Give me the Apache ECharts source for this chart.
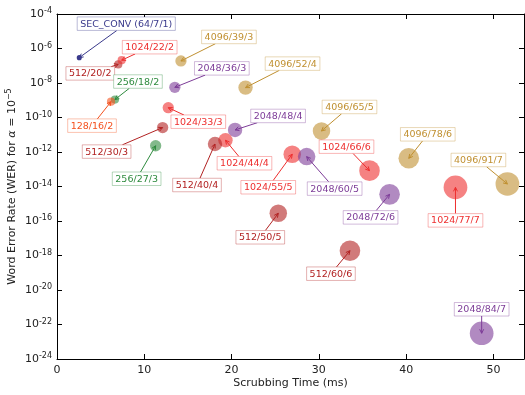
<!DOCTYPE html>
<html><head><meta charset="utf-8">
<script src="https://cdn.jsdelivr.net/npm/echarts@6/dist/echarts.min.js"></script>
<style>html,body{margin:0;padding:0;background:#fff}#c{width:525px;height:395px}</style>
</head><body><div id="c"></div>
<script>
// ---- data ----
const labels = ['SEC_CONV (64/7/1)','512/20/2','1024/22/2','256/18/2','128/16/2',
  '512/30/3','256/27/3','1024/33/3','4096/39/3','2048/36/3',
  '4096/52/4','2048/48/4','1024/44/4','512/40/4',
  '1024/55/5','2048/60/5','4096/65/5','512/50/5',
  '1024/66/6','4096/78/6','2048/72/6','512/60/6',
  '4096/91/7','1024/77/7','2048/84/7'];
const times = [2.55,7.02,7.41,6.64,6.19,
  12.1,11.3,12.75,14.2,13.5,
  21.6,20.4,19.3,18.1,
  26.95,28.6,30.3,25.35,
  35.8,40.3,38.1,33.56,
  51.6,45.65,48.65];
const wers = [2.95e-7,1.2e-7,2.1e-7,1.1e-9,8.3e-10,
  2.6e-11,2.3e-12,3.7e-10,1.9e-7,5.6e-9,
  5.4e-9,1.9e-11,4.8e-12,2.9e-12,
  7.4e-13,5.4e-13,1.66e-11,2.8e-16,
  8.3e-14,4.3e-13,3.5e-15,1.9e-18,
  1.4e-14,8.9e-15,3.1e-23];
const xTicks = [0,10,20,30,40,50];
const yTickExponents = [-24,-22,-20,-18,-16,-14,-12,-10,-8,-6,-4];

// ---- styling / layout ----
const groupColors = {SEC:'#3a3a8c','128':'#f4511e','256':'#2e8b3e','512':'#b22222','1024':'#ee2e2e','2048':'#7d3c98','4096':'#c09030'};
const labelOffsets = {
  'SEC_CONV (64/7/1)':[47,-34],'512/20/2':[-28,9],'1024/22/2':[28,-13],'256/18/2':[23,-18],'128/16/2':[-19,24],
  '512/30/3':[-56,24],'256/27/3':[-19,33],'1024/33/3':[30,14],'4096/39/3':[48,-24],'2048/36/3':[47,-19],
  '4096/52/4':[47,-24],'2048/48/4':[43,-14],'1024/44/4':[19,23],'512/40/4':[-18,41],
  '1024/55/5':[-24,33],'2048/60/5':[28,32],'4096/65/5':[28,-24],'512/50/5':[-18,24],
  '1024/66/6':[-23,-24],'4096/78/6':[19,-24],'2048/72/6':[-19,23],'512/60/6':[-19,23],
  '4096/91/7':[-29,-24],'1024/77/7':[0,33],'2048/84/7':[0,-24]
};
function groupOf(name){ return name.startsWith('SEC') ? 'SEC' : name.split('/')[0]; }
function levelOf(name){ const m = name.match(/\/(\d+)\)?$/); return m ? +m[1] : 1; }
function hexA(hex, a){ const n=parseInt(hex.slice(1),16); return 'rgba('+(n>>16)+','+((n>>8)&255)+','+(n&255)+','+a+')'; }

const FONT = 'DejaVu Sans';
const LFS = 9.5;
const PADX = 3, PADY = 1.5;
const measureCtx = document.createElement('canvas').getContext('2d');
measureCtx.font = LFS + 'px "' + FONT + '"';

const pointData = labels.map((name,i)=>{
  const c = groupColors[groupOf(name)];
  const isSec = groupOf(name)==='SEC';
  return {
    name: name,
    value: [times[i], wers[i]],
    symbolSize: 3.1*levelOf(name)+2,
    itemStyle: {color: c, opacity: isSec ? 1 : 0.6}
  };
});
const annData = labels.map((name,i)=>({name: name, value: [times[i], wers[i]]}));

function renderAnnotation(params, api){
  const name = labels[params.dataIndex];
  const c = groupColors[groupOf(name)];
  const p = api.coord([api.value(0), api.value(1)]);
  const off = labelOffsets[name] || [0,0];
  const cx = p[0] + off[0], cy = p[1] + off[1];
  const w = measureCtx.measureText(name).width + 2*PADX;
  const h = LFS + 2*PADY + 1;
  const dx = p[0]-cx, dy = p[1]-cy;
  let t = 1;
  if (dx !== 0) t = Math.min(t, (w/2)/Math.abs(dx));
  if (dy !== 0) t = Math.min(t, (h/2)/Math.abs(dy));
  const sx = cx + dx*t, sy = cy + dy*t;
  const len = Math.sqrt(dx*dx+dy*dy) || 1;
  const ux = dx/len, uy = dy/len;
  const ah = 4, aw = 2;
  const bx = p[0]-ux*ah, by = p[1]-uy*ah;
  return {
    type: 'group',
    children: [
      {type:'line', shape:{x1:sx, y1:sy, x2:p[0], y2:p[1]}, style:{stroke:c, lineWidth:1}, z2: 1},
      {type:'polyline', shape:{points:[[bx - uy*aw, by + ux*aw],[p[0],p[1]],[bx + uy*aw, by - ux*aw]]}, style:{stroke:c, fill:null, lineWidth:1}, z2: 1},
      {type:'rect', shape:{x: cx - w/2, y: cy - h/2, width: w, height: h}, style:{fill:'#fff', stroke: hexA(c,0.35), lineWidth:1}, z2: 2},
      {type:'text', x: cx, y: cy + 0.5, style:{text: name, fill: c, font: LFS + 'px "' + FONT + '"', align:'center', verticalAlign:'middle'}, z2: 3}
    ]
  };
}

const supRich = {
  b: {fontSize: 11, fontFamily: FONT, color: '#222'},
  s: {fontSize: 8, fontFamily: FONT, color: '#222', verticalAlign: 'top', padding: [0,0,6,0]}
};
function expFmt(e){
  if (yTickExponents.indexOf(Math.round(e)) < 0) return '';
  return '{b|10}{s|' + Math.round(e) + '}';
}

const chart = echarts.init(document.getElementById('c'), null, {renderer:'canvas'});
const xCommon = {type:'value', min: 0, max: 53.5, interval: 10,
  axisLine:{show:true, onZero:false, lineStyle:{color:'#000', width:1}},
  axisTick:{show:true, inside:true, length:5, lineStyle:{color:'#000'}},
  splitLine:{show:false}};
const yMinExp = yTickExponents[0], yMaxExp = yTickExponents[yTickExponents.length-1];
const yCommon = {type:'log', logBase:10, min: Math.pow(10, yMinExp), max: Math.pow(10, yMaxExp), interval: 2,
  axisLine:{show:true, onZero:false, lineStyle:{color:'#000', width:1}},
  axisTick:{show:true, inside:true, length:5, lineStyle:{color:'#000'}},
  axisLabel:{show:false},
  minorTick:{show:false},
  splitLine:{show:false}};

chart.setOption({
  animation: false,
  backgroundColor: '#fff',
  grid: {left: 57, right: 1, top: 14, bottom: 36, containLabel: false, outerBoundsMode: 'none'},
  xAxis: [
    Object.assign({}, xCommon, {position:'bottom',
      name: 'Scrubbing Time (ms)', nameLocation:'middle', nameGap: 19, nameMoveOverlap: false,
      nameTextStyle:{fontSize: 11, fontFamily: FONT, color:'#222'},
      axisLabel:{fontSize: 11, fontFamily: FONT, color:'#222', margin: 6, showMaxLabel: false, showMinLabel: true,
        formatter: v => xTicks.indexOf(v) >= 0 ? String(v) : ''}}),
    Object.assign({}, xCommon, {position:'top', axisLabel:{show:false}})
  ],
  yAxis: [
    Object.assign({}, yCommon, {position:'left',
      name: 'Word Error Rate (WER) for {i|α} {n|=} {n|10}{s|−5}', nameLocation:'middle', nameGap: 38, nameRotate: 90,
      nameMoveOverlap: false,
      nameTextStyle:{fontSize: 11, fontFamily: FONT, color:'#222',
        rich:{i:{fontSize:11, fontFamily:'DejaVu Serif', fontStyle:'italic', color:'#222'},
              n:{fontSize:11, fontFamily:'DejaVu Sans', color:'#222'},
              s:{fontSize:8, fontFamily:'DejaVu Sans', color:'#222', verticalAlign:'top', padding:[0,0,6,0]}}}}),
    Object.assign({}, yCommon, {position:'right'}),
    // tick-label axis for the decades (exponent space, same extent as the log axis)
    {type:'value', position:'left', min: yMinExp, max: yMaxExp, interval: 2,
      axisLine:{show:false}, axisTick:{show:false}, splitLine:{show:false},
      axisLabel:{margin: 5, formatter: expFmt, rich: supRich, showMinLabel: true, showMaxLabel: true}}
  ],
  series: [{
    type: 'scatter',
    xAxisIndex: 0, yAxisIndex: 0,
    data: pointData,
    emphasis: {disabled: true},
    z: 2
  }, {
    type: 'custom',
    xAxisIndex: 0, yAxisIndex: 0,
    data: annData,
    renderItem: renderAnnotation,
    clip: false,
    z: 3
  }]
});
</script></body></html>
